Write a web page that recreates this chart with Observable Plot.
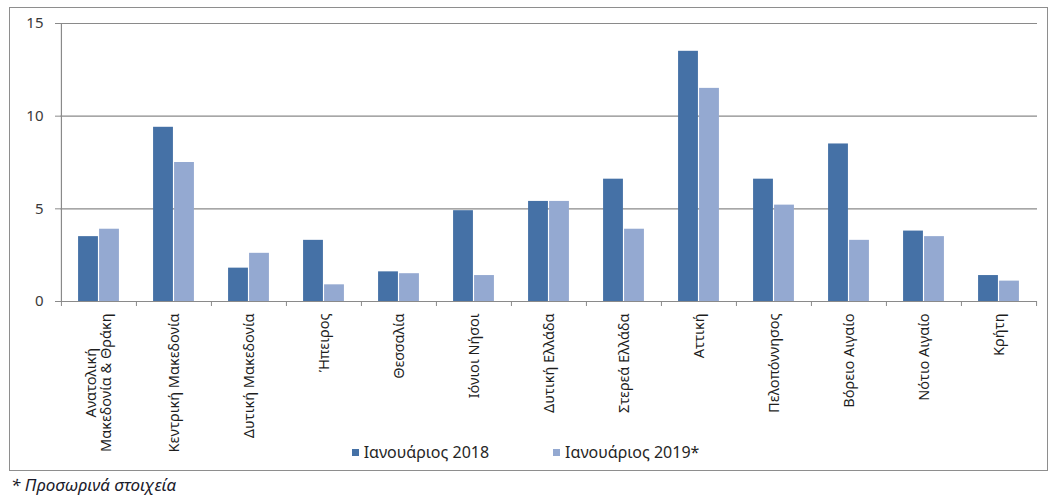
<!DOCTYPE html>
<html><head><meta charset="utf-8">
<script src="https://cdn.jsdelivr.net/npm/d3@7"></script>
<script src="https://cdn.jsdelivr.net/npm/@observablehq/plot@0.6"></script>
<style>
body{margin:0;background:#fff;font-family:"Noto Sans",sans-serif;}
#box{position:absolute;left:9px;top:7px;width:1039px;height:464px;border:1px solid #8e8e8e;box-sizing:border-box;}
#legend{display:flex;justify-content:center;gap:64px;height:28px;align-items:center;font-size:16px;color:#262626;padding-right:6px;}
#legend .item{display:flex;align-items:center;gap:5px;}
#legend .sw{width:7px;height:7px;display:inline-block;}
#note{position:absolute;left:11px;top:473px;font-style:italic;font-size:17px;color:#1a1a2a;}
</style></head><body>
<div id="box"><div id="chart"></div><div id="legend"></div></div>
<div id="note"></div>
<script>
const regions = ["Ανατολική\nΜακεδονία & Θράκη","Κεντρική Μακεδονία","Δυτική Μακεδονία","Ήπειρος","Θεσσαλία","Ιόνιοι Νήσοι","Δυτική Ελλάδα","Στερεά Ελλάδα","Αττική","Πελοπόννησος","Βόρειο Αιγαίο","Νότιο Αιγαίο","Κρήτη"];
const jan2018 = [3.5, 9.4, 1.8, 3.3, 1.6, 4.9, 5.4, 6.6, 13.5, 6.6, 8.5, 3.8, 1.4];
const jan2019 = [3.9, 7.5, 2.6, 0.9, 1.5, 1.4, 5.4, 3.9, 11.5, 5.2, 3.3, 3.5, 1.1];
const seriesNames = ["Ιανουάριος 2018", "Ιανουάριος 2019*"];
const seriesColors = ["#4571A6", "#94A9D1"];
const yTicks = [0, 5, 10, 15];
const footnote = "* Προσωρινά στοιχεία";

const rows = regions.map((r, i) => ({region: r, v2018: jan2018[i], v2019: jan2019[i]}));

const W = 1037, H = 430, ML = 50, MR = 10, MT = 15, MB = 137;
const bw = (W - ML - MR) / regions.length;
const barW = 20, gap = 1;
const outer = (bw - 2 * barW - gap) / 2;
const grid = "#8a8a8a";

const chart = Plot.plot({
  width: W, height: H,
  marginLeft: ML, marginRight: MR, marginTop: MT, marginBottom: MB,
  style: {fontFamily: "Noto Sans, sans-serif", fontSize: "14px", color: "#262626", overflow: "visible", background: "transparent"},
  x: {domain: regions, padding: 0, label: null},
  y: {domain: [0, 15], label: null},
  marks: [
    Plot.ruleY(yTicks.filter(d => d > 0), {stroke: grid, strokeWidth: 1.2}),
    Plot.barY(rows, {x: "region", y: "v2018", fill: seriesColors[0], insetLeft: outer, insetRight: outer + barW + gap}),
    Plot.barY(rows, {x: "region", y: "v2019", fill: seriesColors[1], insetLeft: outer + barW + gap, insetRight: outer}),
    Plot.ruleY([0], {stroke: grid, strokeWidth: 1.2}),
    Plot.ruleX([regions[0]], {dx: -bw / 2, stroke: grid, strokeWidth: 1.2}),
    Plot.axisY({ticks: yTicks, tickSize: 5, tickPadding: 12, stroke: grid, fontSize: 15, fill: "#3a3a3a", label: null}),
    Plot.axisX({ticks: regions, tickSize: 5, dx: -bw / 2, stroke: grid, tickFormat: () => "", label: null}),
    Plot.axisX({ticks: [regions[regions.length - 1]], tickSize: 5, dx: bw / 2, stroke: grid, tickFormat: () => "", label: null}),
    Plot.axisX({ticks: regions, tickSize: 0, tickPadding: 12, tickRotate: -90, fontSize: 14.5, fill: "#1e1e1e", label: null})
  ]
});
document.getElementById("chart").append(chart);

// centre the lines of multi-line tick labels, as in the original
chart.querySelectorAll("text").forEach(t => {
  const sp = t.querySelectorAll("tspan");
  if (sp.length > 1) {
    const L = Math.max(...[...sp].map(s => s.getComputedTextLength()));
    t.setAttribute("text-anchor", "middle");
    sp.forEach(s => s.setAttribute("x", -L / 2));
  }
});

const legend = document.getElementById("legend");
seriesNames.forEach((n, i) => {
  const it = document.createElement("span");
  it.className = "item";
  const sw = document.createElement("span");
  sw.className = "sw"; sw.style.background = seriesColors[i];
  const tx = document.createElement("span");
  tx.textContent = n;
  it.append(sw, tx);
  legend.append(it);
});
document.getElementById("note").textContent = footnote;
</script>
</body></html>
